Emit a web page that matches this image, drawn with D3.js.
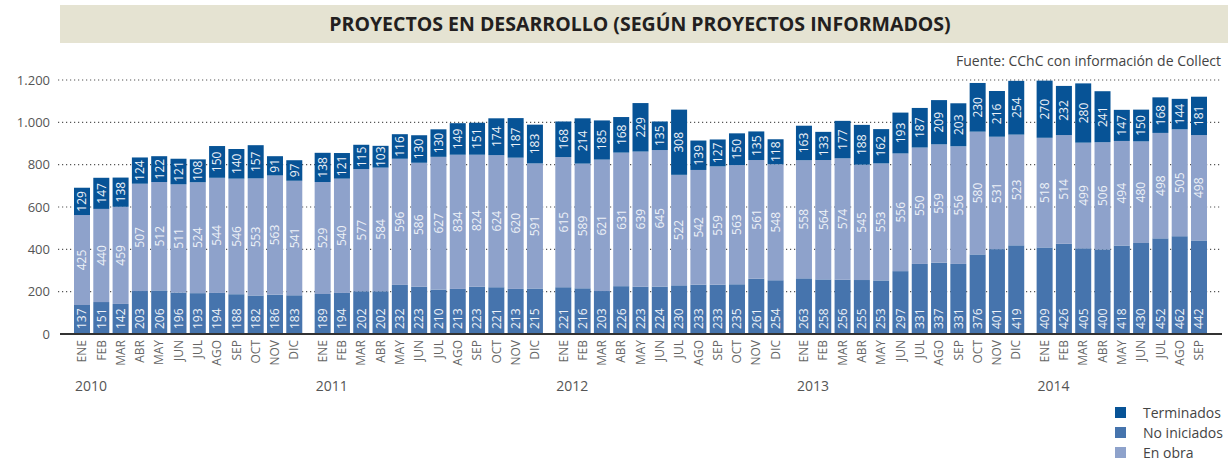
<!DOCTYPE html>
<html>
<head>
<meta charset="utf-8">
<script src="https://cdn.jsdelivr.net/npm/d3@7"></script>
<style>
  body { margin: 0; background: #fff; }
  svg { font-family: "Open Sans", "Noto Sans", sans-serif; }
</style>
</head>
<body>
<script>
// months and years shown on the x axis
var years = ["2010", "2011", "2012", "2013", "2014"];
var monthNames = ["ENE", "FEB", "MAR", "ABR", "MAY", "JUN", "JUL", "AGO", "SEP", "OCT", "NOV", "DIC"];
var monthsPerYear = [12, 12, 12, 12, 9];

// series, one value per month (ENE 2010 .. SEP 2014)
var noIniciados = [
  137, 151, 142, 203, 206, 196, 193, 194, 188, 182, 186, 183,
  189, 194, 202, 202, 232, 223, 210, 213, 223, 221, 213, 215,
  221, 216, 203, 226, 223, 224, 230, 233, 233, 235, 261, 254,
  263, 258, 256, 255, 253, 297, 331, 337, 331, 376, 401, 419,
  409, 426, 405, 400, 418, 430, 452, 462, 442
];
var enObra = [
  425, 440, 459, 507, 512, 511, 524, 544, 546, 553, 563, 541,
  529, 540, 577, 584, 596, 586, 627, 634, 624, 624, 620, 591,
  615, 589, 621, 631, 639, 645, 522, 542, 559, 563, 561, 548,
  558, 564, 574, 545, 553, 556, 550, 559, 556, 580, 531, 523,
  518, 514, 499, 506, 494, 480, 498, 505, 498
];
var terminados = [
  129, 147, 138, 124, 122, 121, 108, 150, 140, 157, 91, 97,
  138, 121, 115, 103, 116, 130, 130, 149, 151, 174, 187, 183,
  168, 214, 185, 168, 229, 135, 308, 139, 127, 150, 135, 118,
  163, 133, 177, 188, 162, 193, 187, 209, 203, 230, 216, 254,
  270, 232, 280, 241, 147, 150, 168, 144, 181
];
// the printed chart shows these two labels differently from the bar lengths
var printedEnObra = { 19: "834", 20: "824" };

var yTicks = [0, 200, 400, 600, 800, 1000, 1200];

var seriesNames = ["No iniciados", "En obra", "Terminados"];
var colours = { "Terminados": "#075396", "No iniciados": "#4674ad", "En obra": "#8ea2cb" };
var legendOrder = ["Terminados", "No iniciados", "En obra"];

var width = 1228, height = 465;
var plotLeft = 58, plotRight = 1222, plotTop = 80, plotBottom = 334;
var barWidth = 16, yearGap = 0.47;

// build month rows
var rows = [];
var k = 0;
years.forEach(function (yr, yi) {
  for (var m = 0; m < monthsPerYear[yi]; m++) {
    rows.push({
      i: k, year: yr, yi: yi, month: monthNames[m],
      slot: k + yi * yearGap,
      "No iniciados": noIniciados[k],
      "En obra": enObra[k],
      "Terminados": terminados[k]
    });
    k++;
  }
});

var lastSlot = rows[rows.length - 1].slot;
var x = d3.scaleLinear().domain([0, lastSlot]).range([82, 1199]);
var y = d3.scaleLinear().domain([0, 1200]).range([plotBottom, plotTop]);

var locale = d3.formatLocale({ decimal: ",", thousands: ".", grouping: [3], currency: ["$", ""] });
var fmt = locale.format(",d");

var svg = d3.select("body").append("svg")
  .attr("width", width).attr("height", height);

// title banner
svg.append("rect")
  .attr("x", 60).attr("y", 5).attr("width", width - 60).attr("height", 38)
  .attr("fill", "#e5e3d2");
svg.append("text")
  .attr("x", 640).attr("y", 31)
  .attr("text-anchor", "middle")
  .attr("font-size", 19.5).attr("font-weight", 700)
  .attr("fill", "#231f20")
  .text("PROYECTOS EN DESARROLLO (SEGÚN PROYECTOS INFORMADOS)");

svg.append("text")
  .attr("x", 1221).attr("y", 66)
  .attr("text-anchor", "end")
  .attr("font-size", 14).attr("fill", "#444")
  .text("Fuente: CChC con información de Collect");

// dotted grid + y labels
var grid = svg.append("g");
grid.selectAll("line").data(yTicks.filter(function (d) { return d > 0; }))
  .enter().append("line")
  .attr("x1", plotLeft).attr("x2", plotRight)
  .attr("y1", function (d) { return y(d); }).attr("y2", function (d) { return y(d); })
  .attr("stroke", "#555").attr("stroke-width", 1.2)
  .attr("stroke-dasharray", "1.2,2.8");
grid.selectAll("text").data(yTicks)
  .enter().append("text")
  .attr("x", 50).attr("y", function (d) { return y(d); })
  .attr("dy", "0.35em")
  .attr("text-anchor", "end")
  .attr("font-size", 13).attr("fill", "#555")
  .text(function (d) { return fmt(d); });

// stacked bars
var stack = d3.stack().keys(seriesNames);
var layers = stack(rows);

var bars = svg.append("g");
layers.forEach(function (layer) {
  var name = layer.key;
  bars.append("g").selectAll("rect").data(layer)
    .enter().append("rect")
    .attr("x", function (d) { return x(d.data.slot) - barWidth / 2; })
    .attr("width", barWidth)
    .attr("y", function (d) { return y(d[1]); })
    .attr("height", function (d) { return y(d[0]) - y(d[1]); })
    .attr("fill", colours[name]);
});

// value labels, rotated
var labels = svg.append("g")
  .attr("font-size", 12).attr("fill", "#eef2f8");
layers.forEach(function (layer) {
  var name = layer.key;
  labels.append("g").selectAll("text").data(layer)
    .enter().append("text")
    .attr("transform", function (d) {
      var cx = x(d.data.slot);
      var cy = name == "No iniciados" ? y(0) - 5 : (y(d[0]) + y(d[1])) / 2;
      return "translate(" + cx + "," + cy + ") rotate(-90)";
    })
    .attr("text-anchor", name == "No iniciados" ? "start" : "middle")
    .attr("dy", "0.36em")
    .text(function (d) {
      if (name == "En obra" && printedEnObra[d.data.i]) return printedEnObra[d.data.i];
      return d.data[name];
    });
});

// baseline
svg.append("line")
  .attr("x1", 60).attr("x2", plotRight)
  .attr("y1", y(0)).attr("y2", y(0))
  .attr("stroke", "#333").attr("stroke-width", 2);

// month labels
svg.append("g").selectAll("text").data(rows)
  .enter().append("text")
  .attr("transform", function (d) { return "translate(" + x(d.slot) + ",340) rotate(-90)"; })
  .attr("text-anchor", "end")
  .attr("dy", "0.35em")
  .attr("font-size", 12).attr("fill", "#666")
  .text(function (d) { return d.month; });

// year labels
svg.append("g").selectAll("text").data(years)
  .enter().append("text")
  .attr("x", function (yr) {
    var first = rows.find(function (r) { return r.year == yr; });
    return x(first.slot) - 7;
  })
  .attr("y", 391)
  .attr("font-size", 14).attr("fill", "#555")
  .text(function (d) { return d; });

// legend
var legend = svg.append("g");
legendOrder.forEach(function (name, i) {
  var ly = 413 + i * 20;
  legend.append("rect")
    .attr("x", 1115).attr("y", ly - 6).attr("width", 11).attr("height", 11)
    .attr("fill", colours[name]);
  legend.append("text")
    .attr("x", 1143).attr("y", ly).attr("dy", "0.35em")
    .attr("font-size", 14).attr("fill", "#444")
    .text(name);
});
</script>
</body>
</html>
